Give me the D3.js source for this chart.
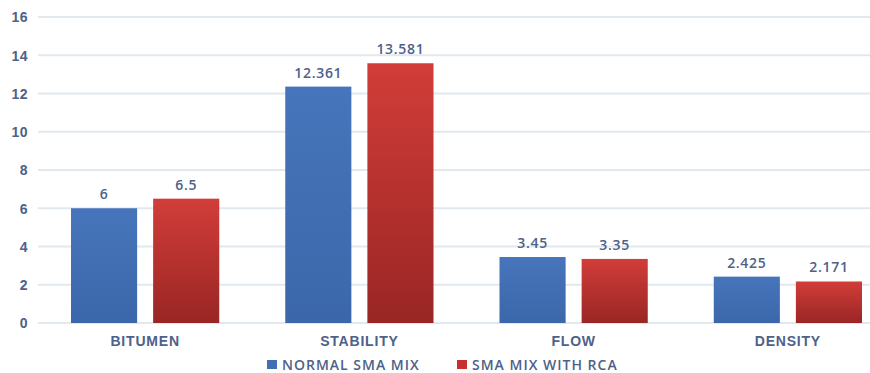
<!DOCTYPE html>
<html>
<head>
<meta charset="utf-8">
<script src="https://cdn.jsdelivr.net/npm/d3@7"></script>
<style>
  html, body { margin: 0; padding: 0; background: #ffffff; }
  svg { display: block; font-family: "Open Sans", "DejaVu Sans", sans-serif; }
</style>
</head>
<body>
<svg id="chart" width="870" height="373"></svg>
<script>
// Mix properties: normal SMA vs SMA with recycled concrete aggregate
const categories = ["BITUMEN", "STABILITY", "FLOW", "DENSITY"];
const seriesNames = ["NORMAL SMA MIX", "SMA MIX WITH RCA"];
const normalSma = [6, 12.361, 3.45, 2.425];
const smaWithRca = [6.5, 13.581, 3.35, 2.171];
const valueLabels = [["6", "12.361", "3.45", "2.425"], ["6.5", "13.581", "3.35", "2.171"]];
const yTicks = [0, 2, 4, 6, 8, 10, 12, 14, 16];

const seriesValues = [normalSma, smaWithRca];
const textColor = "#4d6189";

const svg = d3.select("#chart");
const defs = svg.append("defs");

const gradStops = [
  { id: "gradBlue", top: "#4775bb", bottom: "#3b67aa" },
  { id: "gradRed", top: "#d23d39", bottom: "#992624" }
];
gradStops.forEach(g => {
  const lg = defs.append("linearGradient")
    .attr("id", g.id).attr("x1", 0).attr("y1", 0).attr("x2", 0).attr("y2", 1);
  lg.append("stop").attr("offset", "0%").attr("stop-color", g.top);
  lg.append("stop").attr("offset", "100%").attr("stop-color", g.bottom);
});

const plotLeft = 38, plotRight = 895, plotTop = 17, plotBottom = 323;

const x = d3.scaleBand().domain(categories).range([plotLeft, plotRight]).padding(0);
const xInner = d3.scaleBand().domain(seriesNames)
  .range([33, x.bandwidth() - 33]).paddingInner(0.195).paddingOuter(0);
const y = d3.scaleLinear().domain([0, 16]).range([plotBottom, plotTop]);

// Horizontal gridlines
svg.append("g")
  .selectAll("line")
  .data(yTicks)
  .join("line")
  .attr("x1", plotLeft).attr("x2", 870)
  .attr("y1", d => y(d)).attr("y2", d => y(d))
  .attr("stroke", "#e2e9ee").attr("stroke-width", 2);

// Y axis labels
const yAxis = d3.axisLeft(y).tickValues(yTicks).tickSize(0).tickPadding(0);
const yg = svg.append("g").attr("transform", `translate(28,0)`).call(yAxis);
yg.select(".domain").remove();
yg.selectAll("text")
  .attr("fill", textColor)
  .attr("font-size", 14)
  .attr("font-weight", 600)
  .attr("letter-spacing", 0.5)
  .attr("dy", "0.35em");

// Bars
const fills = ["url(#gradBlue)", "url(#gradRed)"];
const groups = svg.append("g")
  .selectAll("g")
  .data(categories)
  .join("g")
  .attr("transform", d => `translate(${x(d)},0)`);

groups.each(function(cat, ci) {
  const g = d3.select(this);
  seriesNames.forEach((s, si) => {
    const v = seriesValues[si][ci];
    g.append("rect")
      .attr("x", xInner(s))
      .attr("y", y(v))
      .attr("width", xInner.bandwidth())
      .attr("height", y(0) - y(v))
      .attr("fill", fills[si]);
    g.append("text")
      .attr("x", xInner(s) + xInner.bandwidth() / 2)
      .attr("y", y(v) - 9)
      .attr("text-anchor", "middle")
      .attr("fill", textColor)
      .attr("font-size", 14)
      .attr("font-weight", 600)
      .attr("letter-spacing", 0.7)
      .text(valueLabels[si][ci]);
  });
});

// Category labels
const xAxis = d3.axisBottom(x).tickSize(0).tickPadding(0);
const xg = svg.append("g").attr("transform", `translate(0,${plotBottom + 23})`).call(xAxis);
xg.select(".domain").remove();
xg.selectAll("text")
  .attr("dy", 0)
  .attr("fill", textColor)
  .attr("font-size", 14)
  .attr("font-weight", 600)
  .attr("letter-spacing", 0.8);

// Legend
const legendItems = [
  { name: seriesNames[0], color: "#4070b5", x: 267 },
  { name: seriesNames[1], color: "#c8302d", x: 457 }
];
const legend = svg.append("g");
legendItems.forEach(item => {
  legend.append("rect")
    .attr("x", item.x).attr("y", 360)
    .attr("width", 10).attr("height", 9)
    .attr("fill", item.color);
  legend.append("text")
    .attr("x", item.x + 15).attr("y", 369.5)
    .attr("fill", textColor)
    .attr("font-size", 14)
    .attr("font-weight", 600)
    .attr("letter-spacing", 1)
    .text(item.name);
});
</script>
</body>
</html>
